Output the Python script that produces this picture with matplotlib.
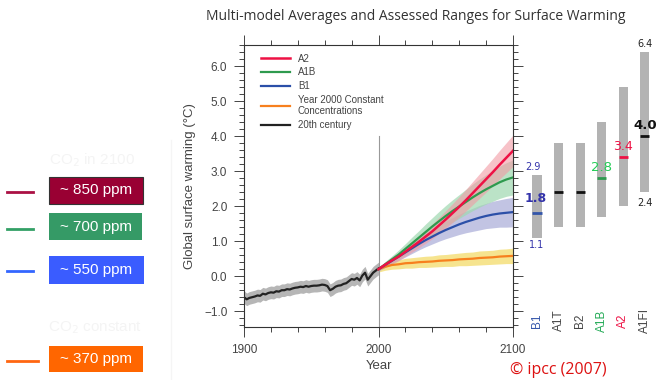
import matplotlib
matplotlib.use("Agg")
import matplotlib.pyplot as plt
import numpy as np
from matplotlib.patches import Rectangle
from matplotlib.lines import Line2D
from matplotlib.ticker import MultipleLocator

# ---------------- data ----------------
hist_years = list(range(1900, 2001, 2))
hist_vals = [-0.60, -0.66, -0.62, -0.60, -0.58, -0.55, -0.56, -0.50, -0.52, -0.48,
             -0.46, -0.47, -0.43, -0.44, -0.40, -0.40, -0.37, -0.38, -0.35, -0.33,
             -0.32, -0.30, -0.31, -0.28, -0.30, -0.28, -0.27, -0.27, -0.26, -0.24,
             -0.25, -0.28, -0.40, -0.36, -0.30, -0.27, -0.26, -0.22, -0.20, -0.14,
             -0.08, -0.10, -0.05, -0.12, 0.02, 0.10, -0.10, 0.00, 0.10, 0.16, 0.22]
hist_spread = 0.18

proj_years = list(range(2000, 2101, 5))
a2_vals = [0.20, 0.33, 0.45, 0.56, 0.70, 0.84, 0.98, 1.13, 1.28, 1.45, 1.62,
           1.80, 1.98, 2.17, 2.37, 2.57, 2.77, 2.97, 3.18, 3.38, 3.58]
a1b_vals = [0.20, 0.34, 0.48, 0.62, 0.78, 0.94, 1.10, 1.26, 1.42, 1.57, 1.72,
            1.86, 1.99, 2.12, 2.25, 2.37, 2.48, 2.58, 2.68, 2.76, 2.82]
b1_vals = [0.20, 0.32, 0.44, 0.56, 0.68, 0.80, 0.92, 1.03, 1.13, 1.23, 1.32,
           1.40, 1.48, 1.55, 1.61, 1.67, 1.72, 1.76, 1.79, 1.81, 1.83]
const_vals = [0.20, 0.27, 0.32, 0.34, 0.37, 0.38, 0.40, 0.41, 0.42, 0.44, 0.45,
              0.46, 0.48, 0.49, 0.50, 0.52, 0.53, 0.54, 0.56, 0.57, 0.58]
a2_spread = [0.05, 0.07, 0.09, 0.11, 0.13, 0.15, 0.17, 0.19, 0.21, 0.23, 0.25,
             0.27, 0.29, 0.31, 0.33, 0.35, 0.37, 0.39, 0.41, 0.43, 0.45]
a1b_spread = [0.05, 0.08, 0.10, 0.13, 0.15, 0.18, 0.20, 0.23, 0.25, 0.28, 0.30,
              0.32, 0.34, 0.36, 0.38, 0.40, 0.42, 0.44, 0.46, 0.48, 0.50]
b1_spread = [0.05, 0.07, 0.09, 0.11, 0.13, 0.15, 0.17, 0.19, 0.21, 0.23, 0.25,
             0.27, 0.29, 0.31, 0.33, 0.35, 0.36, 0.38, 0.39, 0.41, 0.42]
const_spread = [0.08, 0.10, 0.12, 0.13, 0.14, 0.15, 0.15, 0.16, 0.16, 0.17, 0.17,
                0.18, 0.18, 0.19, 0.19, 0.20, 0.20, 0.20, 0.21, 0.21, 0.22]

scenarios = ["B1", "A1T", "B2", "A1B", "A2", "A1FI"]
best_est = [1.8, 2.4, 2.4, 2.8, 3.4, 4.0]
range_low = [1.1, 1.4, 1.4, 1.7, 2.0, 2.4]
range_high = [2.9, 3.8, 3.8, 4.4, 5.4, 6.4]
scen_colors = ["#3355aa", "#444444", "#444444", "#22aa55", "#ee1144", "#444444"]
mean_colors = ["#3355aa", "#111111", "#111111", "#2e9a4e", "#ee1144", "#111111"]

co2_labels = ["~ 850 ppm", "~ 700 ppm", "~ 550 ppm", "~ 370 ppm"]

# ---------------- figure ----------------
W, H = 659, 380
fig = plt.figure(figsize=(W / 100, H / 100), dpi=100)
fig.patch.set_facecolor("white")

def fx(px):
    return px / W

def fy(py):
    return 1 - py / H

ax_l, ax_r, ax_t, ax_b = 244, 513, 45, 327
ax = fig.add_axes([fx(ax_l), fy(ax_b), fx(ax_r - ax_l), (ax_b - ax_t) / H])
ymin, ymax = -1.45, 6.6
ax.set_xlim(1900, 2100)
ax.set_ylim(ymin, ymax)

tick_col = "#444444"
fn = "Liberation Sans"

# history
ax.fill_between(hist_years, np.array(hist_vals) - hist_spread, np.array(hist_vals) + hist_spread,
                color="#a9a9a9", alpha=0.85, lw=0)
# projections bands
band_specs = [
    (const_vals, const_spread, "#f3dc6a", 0.75),
    (b1_vals, b1_spread, "#a9acd8", 0.7),
    (a1b_vals, a1b_spread, "#9fd8b0", 0.7),
    (a2_vals, a2_spread, "#f29aa4", 0.6),
]
for vals, spr, col, al in band_specs:
    v = np.array(vals)
    s = np.array(spr)
    ax.fill_between(proj_years, v - s, v + s, color=col, alpha=al, lw=0)

ax.plot([2000, 2000], [ymin, 4.0], color="#999999", lw=0.8)

l_hist, = ax.plot(hist_years, hist_vals, color="#222222", lw=1.6)
l_const, = ax.plot(proj_years, const_vals, color="#f7801e", lw=1.6)
l_b1, = ax.plot(proj_years, b1_vals, color="#2b4fa8", lw=1.6)
l_a1b, = ax.plot(proj_years, a1b_vals, color="#2e9a4e", lw=1.6)
l_a2, = ax.plot(proj_years, a2_vals, color="#ee1144", lw=1.8)

leg = ax.legend([l_a2, l_a1b, l_b1, l_const, l_hist],
                ["A2", "A1B", "B1", "Year 2000 Constant\nConcentrations", "20th century"],
                loc="upper left", bbox_to_anchor=(0.03, 1.0), frameon=False,
                prop={"family": fn, "size": 7}, handlelength=3.0, labelspacing=0.38,
                handletextpad=0.8)
for t in leg.get_texts():
    t.set_color("#444444")

# spines / ticks
for s in ax.spines.values():
    s.set_color("#333333")
    s.set_linewidth(0.8)
ax.xaxis.set_major_locator(MultipleLocator(100))
ax.xaxis.set_minor_locator(MultipleLocator(20))
ax.yaxis.set_major_locator(MultipleLocator(1.0))
ax.yaxis.set_minor_locator(MultipleLocator(0.2))
ax.tick_params(axis="both", which="both", direction="out", top=True, right=True,
               color="#444444", width=0.7)
ax.tick_params(which="major", length=7)
ax.tick_params(which="minor", length=3.5)
ax.tick_params(axis="both", labelsize=8.5, labelcolor=tick_col, pad=5)
ax.set_yticks([-1, 0, 1, 2, 3, 4, 5, 6])
ax.set_yticklabels(["\u22121.0", "0.0", "1.0", "2.0", "3.0", "4.0", "5.0", "6.0"])
ax.set_xticks([1900, 2000, 2100])
ax.set_xticklabels(["1900", "2000", "2100"])
for lab in ax.get_xticklabels() + ax.get_yticklabels():
    lab.set_family(fn)
ax.set_xlabel("Year", family=fn, fontsize=9.5, color=tick_col, labelpad=3)
ax.set_ylabel("Global surface warming (\u00b0C)", family=fn, fontsize=9.5, color=tick_col, labelpad=6)

# ---------------- right bars panel ----------------
ax2 = fig.add_axes([fx(ax_r), fy(ax_b), fx(W - ax_r), (ax_b - ax_t) / H])
ax2.set_ylim(ymin, ymax)
ax2.set_xlim(-1.11, 5.65)
ax2.axis("off")
ax2.patch.set_alpha(0)
xs = np.arange(len(scenarios))
ax2.bar(xs, np.array(range_high) - np.array(range_low), bottom=range_low, width=0.42,
        color="#b3b3b3", lw=0)
for i in range(len(scenarios)):
    ax2.plot([xs[i] - 0.21, xs[i] + 0.21], [best_est[i], best_est[i]], color=mean_colors[i],
             lw=2, solid_capstyle="butt")
    ax2.text(xs[i], -1.26, scenarios[i], rotation=90, ha="center", va="center",
             family=fn, fontsize=8.5, color=scen_colors[i])

navy = "#3333aa"
ax2.text(-0.17, 3.11, "2.9", ha="center", va="center", fontsize=7, color=navy, family="DejaVu Sans")
ax2.text(-0.05, 2.23, "1.8", ha="center", va="center", fontsize=9, color=navy,
         family="DejaVu Sans", weight="bold")
ax2.text(0.0, 0.89, "1.1", ha="center", va="center", fontsize=7, color=navy, family="DejaVu Sans")
ax2.text(3.0, 3.11, "2.8", ha="center", va="center", fontsize=9.5, color="#22cc55", family="DejaVu Sans")
ax2.text(4.0, 3.71, "3.4", ha="center", va="center", fontsize=9, color="#ee1144", family="DejaVu Sans")
ax2.text(5.0, 4.31, "4.0", ha="center", va="center", fontsize=9.5, color="#111111",
         family="DejaVu Sans", weight="bold")
ax2.text(5.0, 6.62, "6.4", ha="center", va="center", fontsize=7, color="#222222",
         family="DejaVu Sans", clip_on=False)
ax2.text(5.0, 2.09, "2.4", ha="center", va="center", fontsize=7, color="#222222", family="DejaVu Sans")

# ---------------- title & credit ----------------
fig.text(fx(416), fy(17), "Multi-model Averages and Assessed Ranges for Surface Warming",
         ha="center", va="center", family="Open Sans", fontsize=10, color="#333333")
fig.text(fx(510), fy(370), "\u00a9 ipcc (2007)", ha="left", va="center",
         family="Open Sans", fontsize=11.5, color="#dd1111")

# ---------------- left CO2 legend ----------------
fig.add_artist(Line2D([fx(171), fx(171)], [fy(140), fy(380)], color="#f5f5f5", lw=1))
fig.text(fx(92), fy(160), "CO$_2$ in 2100", ha="center", va="center", family=fn,
         fontsize=11, color="#f4f4f4")
fig.text(fx(95), fy(328), "CO$_2$ constant", ha="center", va="center", family=fn,
         fontsize=11, color="#f4f4f4")

boxes = [
    (49, 177, 143, 204, "#990033", "#aa1144", 7, 33, 192, "#333333"),
    (49, 213, 142, 240, "#359a66", "#33a066", 7, 33, 229, "none"),
    (49, 256, 144, 284, "#3a5cff", "#3366ff", 7, 33, 271, "none"),
    (49, 346, 143, 372, "#ff6600", "#ff6611", 7, 38, 361, "none"),
]
for (x0, y0, x1, y1, bc, lc, lx0, lx1, ly, ec), lab in zip(boxes, co2_labels):
    fig.add_artist(Rectangle((fx(x0), fy(y1)), fx(x1 - x0), (y1 - y0) / H,
                             facecolor=bc, edgecolor=ec, lw=0.8))
    fig.text(fx((x0 + x1) / 2), fy((y0 + y1) / 2), lab, ha="center", va="center",
             family=fn, fontsize=11, color="white")
    fig.add_artist(Line2D([fx(lx0), fx(lx1)], [fy(ly), fy(ly)], color=lc, lw=2))

fig.savefig("out.png", dpi=100)
